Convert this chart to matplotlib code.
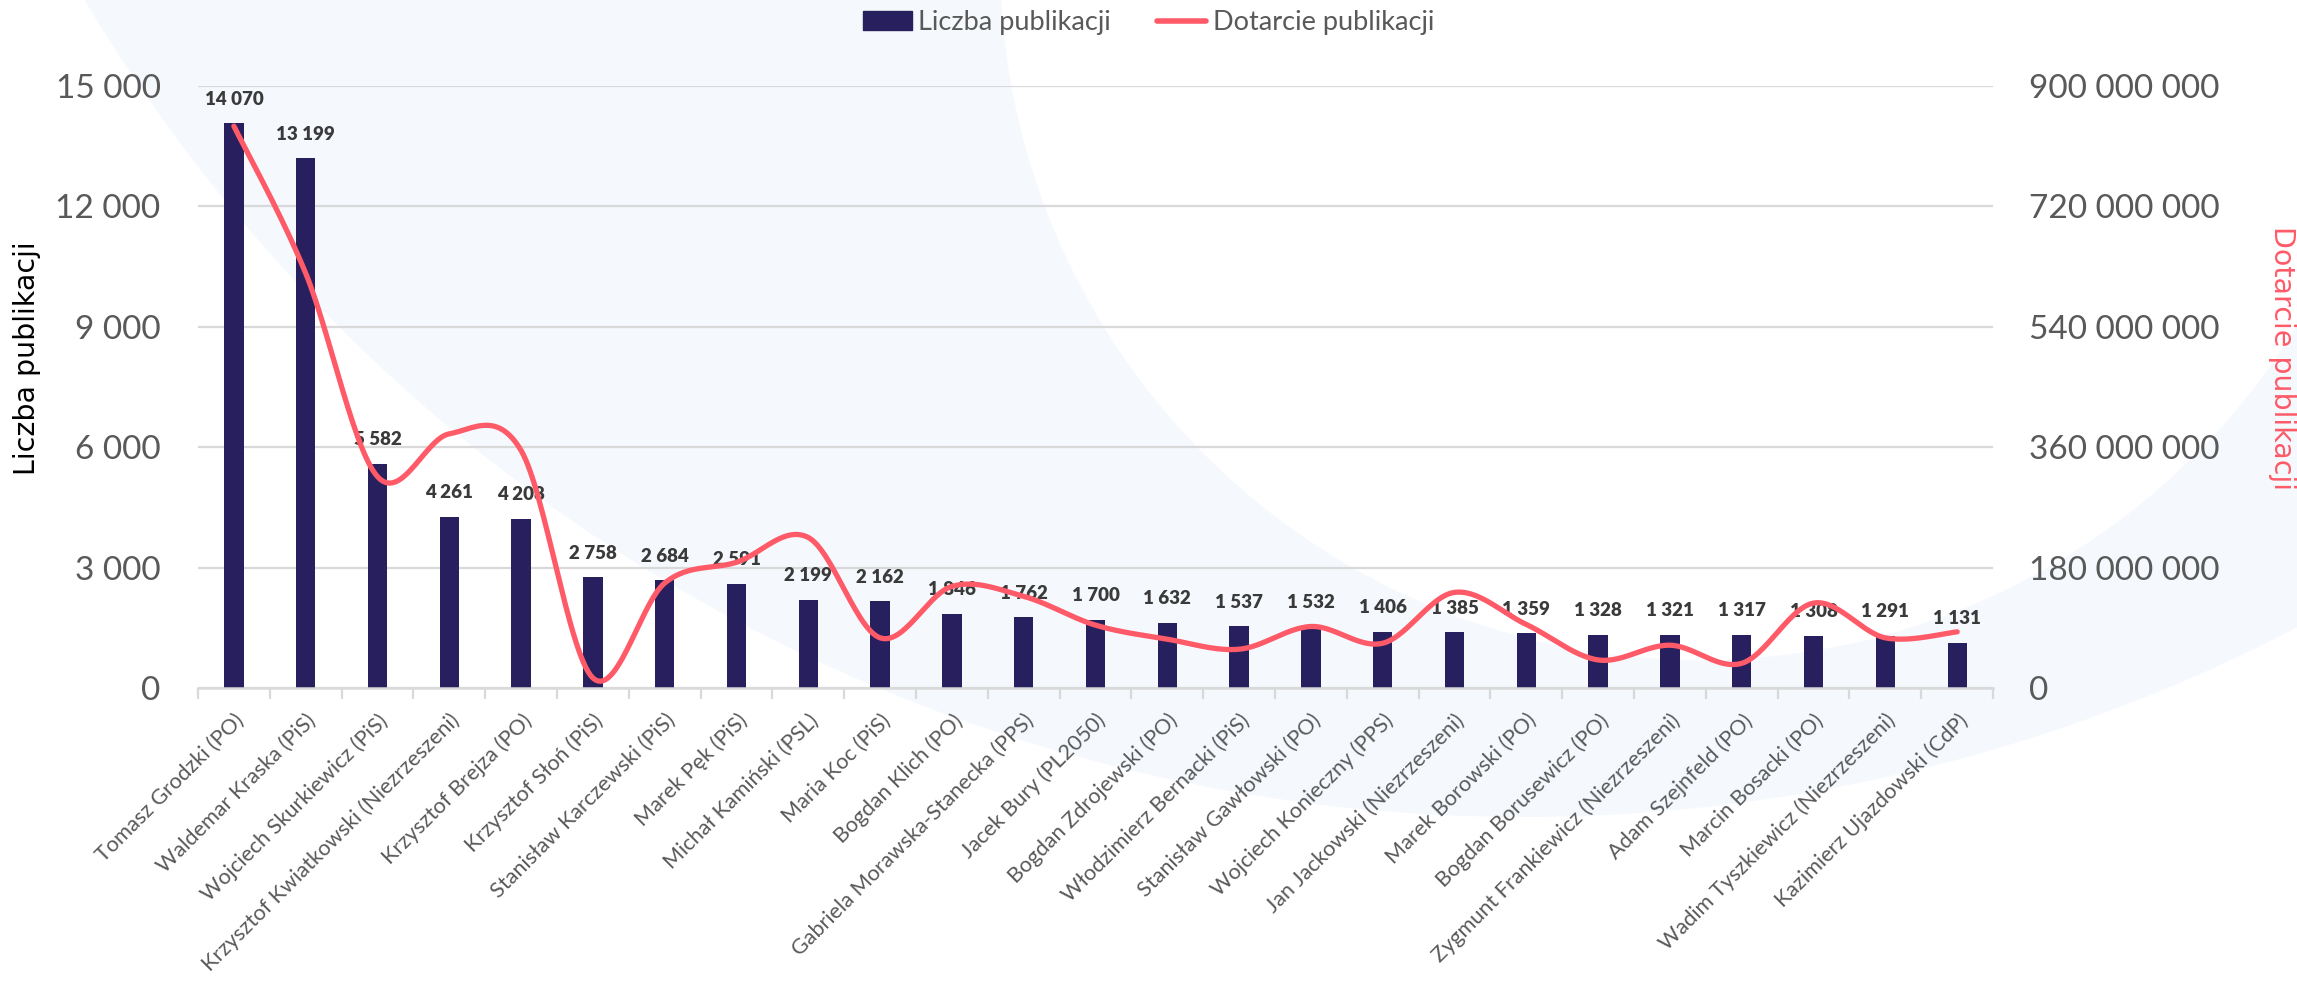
import numpy as np
import matplotlib
matplotlib.use("Agg")
import matplotlib.pyplot as plt
import matplotlib.transforms as mtransforms
from matplotlib.patches import Circle, Patch
from matplotlib.lines import Line2D
from matplotlib.ticker import FuncFormatter

# --- data ---
senators = [
    "Tomasz Grodzki (PO)", "Waldemar Kraska (PiS)", "Wojciech Skurkiewicz (PiS)",
    "Krzysztof Kwiatkowski (Niezrzeszeni)", "Krzysztof Brejza (PO)", "Krzysztof Słoń (PiS)",
    "Stanisław Karczewski (PiS)", "Marek Pęk (PiS)", "Michał Kamiński (PSL)",
    "Maria Koc (PiS)", "Bogdan Klich (PO)", "Gabriela Morawska-Stanecka (PPS)",
    "Jacek Bury (PL2050)", "Bogdan Zdrojewski (PO)", "Włodzimierz Bernacki (PiS)",
    "Stanisław Gawłowski (PO)", "Wojciech Konieczny (PPS)", "Jan Jackowski (Niezrzeszeni)",
    "Marek Borowski (PO)", "Bogdan Borusewicz (PO)", "Zygmunt Frankiewicz (Niezrzeszeni)",
    "Adam Szejnfeld (PO)", "Marcin Bosacki (PO)", "Wadim Tyszkiewicz (Niezrzeszeni)",
    "Kazimierz Ujazdowski (CdP)",
]
publications = [14070, 13199, 5582, 4261, 4208, 2758, 2684, 2591, 2199, 2162, 1846, 1762,
                1700, 1632, 1537, 1532, 1406, 1385, 1359, 1328, 1321, 1317, 1308, 1291, 1131]
# reach in millions (estimated from the line)
reach_mln = [840, 620, 316, 380, 355, 15, 157, 188, 225, 75, 152, 137,
             94, 73, 58, 92, 67, 143, 95, 42, 64, 37, 127, 75, 84]

left_ticks = [0, 3000, 6000, 9000, 12000, 15000]
right_ticks = [0, 180e6, 360e6, 540e6, 720e6, 900e6]

BAR = "#281f5f"
LINE = "#ff5a68"
GREY = "#595959"
GRID = "#d9d9d9"
BAND = "#f5f9fe"
FONT = "Lato"


def spaced(v, pos=None):
    return f"{v:,.0f}".replace(",", " ")


def smooth(xs, ys, n=30):
    # excel-like smoothed line (catmull-rom through every point)
    xs = np.asarray(xs, float)
    ys = np.asarray(ys, float)
    px = np.concatenate([[xs[0]], xs, [xs[-1]]])
    py = np.concatenate([[ys[0]], ys, [ys[-1]]])
    out_x, out_y = [], []
    t = np.linspace(0, 1, n)
    for i in range(1, len(px) - 2):
        for arr, out in ((px, out_x), (py, out_y)):
            p0, p1, p2, p3 = arr[i - 1], arr[i], arr[i + 1], arr[i + 2]
            c1 = p1 + (p2 - p0) / 6
            c2 = p2 - (p3 - p1) / 6
            out.extend((1 - t) ** 3 * p1 + 3 * (1 - t) ** 2 * t * c1
                       + 3 * (1 - t) * t ** 2 * c2 + t ** 3 * p2)
    return np.array(out_x), np.array(out_y)


W, H = 2297, 986
fig = plt.figure(figsize=(W / 100, H / 100), dpi=100)

# background swoosh
bg = fig.add_axes([0, 0, 1, 1], zorder=-1)
bg.set_xlim(0, W)
bg.set_ylim(H, 0)
bg.axis("off")
bg.add_patch(Circle((1523, -858), 1675, color=BAND, lw=0))
bg.add_patch(Circle((1700, -40), 700, color="white", lw=0))

ax = fig.add_axes([0.0862, 0.3022, 0.8677 - 0.0862, 0.9128 - 0.3022])
ax.patch.set_visible(False)
x = np.arange(len(senators))

ax.bar(x, publications, width=0.27, color=BAR, zorder=2)
for xi, v in zip(x, publications):
    ax.annotate(spaced(v), (xi, v), xytext=(0, 13.5), textcoords="offset points",
                ha="center", va="baseline", fontsize=13.5, fontweight="heavy",
                color="#3a3a3a", family=FONT)

ax.set_xlim(-0.5, len(senators) - 0.5)
ax.set_ylim(0, 15000)
ax.set_yticks(left_ticks)
ax.yaxis.set_major_formatter(FuncFormatter(spaced))
ax.grid(axis="y", color=GRID, lw=1.6, zorder=0)
ax.set_axisbelow(True)
for s in ["top", "left", "right"]:
    ax.spines[s].set_visible(False)
ax.spines["bottom"].set_color(GRID)
ax.spines["bottom"].set_linewidth(1.8)

ax.set_xticks(x)
ax.set_xticklabels(senators, rotation=45, ha="right", va="top", rotation_mode="anchor",
                   fontsize=15.6, color=GREY, family=FONT)
offset = mtransforms.ScaledTranslation(4 / 72, 0, fig.dpi_scale_trans)
for lab in ax.get_xticklabels():
    lab.set_transform(lab.get_transform() + offset)
ax.set_xticks(np.arange(-0.5, len(senators), 1), minor=True)
ax.tick_params(axis="x", which="major", length=0, pad=16)
ax.tick_params(axis="x", which="minor", length=8, width=1.6, color=GRID)
ax.tick_params(axis="y", length=0, pad=27, labelsize=24, labelcolor=GREY)
for lab in ax.get_yticklabels():
    lab.set_family(FONT)
ax.set_ylabel("Liczba publikacji", fontsize=20.5, color="black")
ax.yaxis.set_label_coords(-0.0875, 0.548)

ax2 = ax.twinx()
ax2.patch.set_visible(False)
sx, sy = smooth(x, np.array(reach_mln) * 1e6)
ax2.plot(sx, sy, color=LINE, lw=3.8, solid_capstyle="round", zorder=3)
ax2.set_ylim(0, 900e6)
ax2.set_yticks(right_ticks)
ax2.yaxis.set_major_formatter(FuncFormatter(spaced))
ax2.tick_params(axis="y", length=0, pad=26, labelsize=24, labelcolor=GREY)
for lab in ax2.get_yticklabels():
    lab.set_family(FONT)
for s in ax2.spines.values():
    s.set_visible(False)
ax2.set_ylabel("Dotarcie publikacji", fontsize=20.5, color=LINE, rotation=270)
ax2.yaxis.set_label_coords(1.1685, 0.548)

handles = [Patch(color=BAR, label="Liczba publikacji"),
           Line2D([], [], color=LINE, lw=4, solid_capstyle="round", label="Dotarcie publikacji")]
leg = fig.legend(handles=handles, loc="center", bbox_to_anchor=(0.5, 0.977), ncol=2,
                 frameon=False, handlelength=1.8, handletextpad=0.25, columnspacing=1.7,
                 prop={"family": FONT, "size": 19.5})
for t in leg.get_texts():
    t.set_color(GREY)

fig.savefig("out.png", dpi=100)
